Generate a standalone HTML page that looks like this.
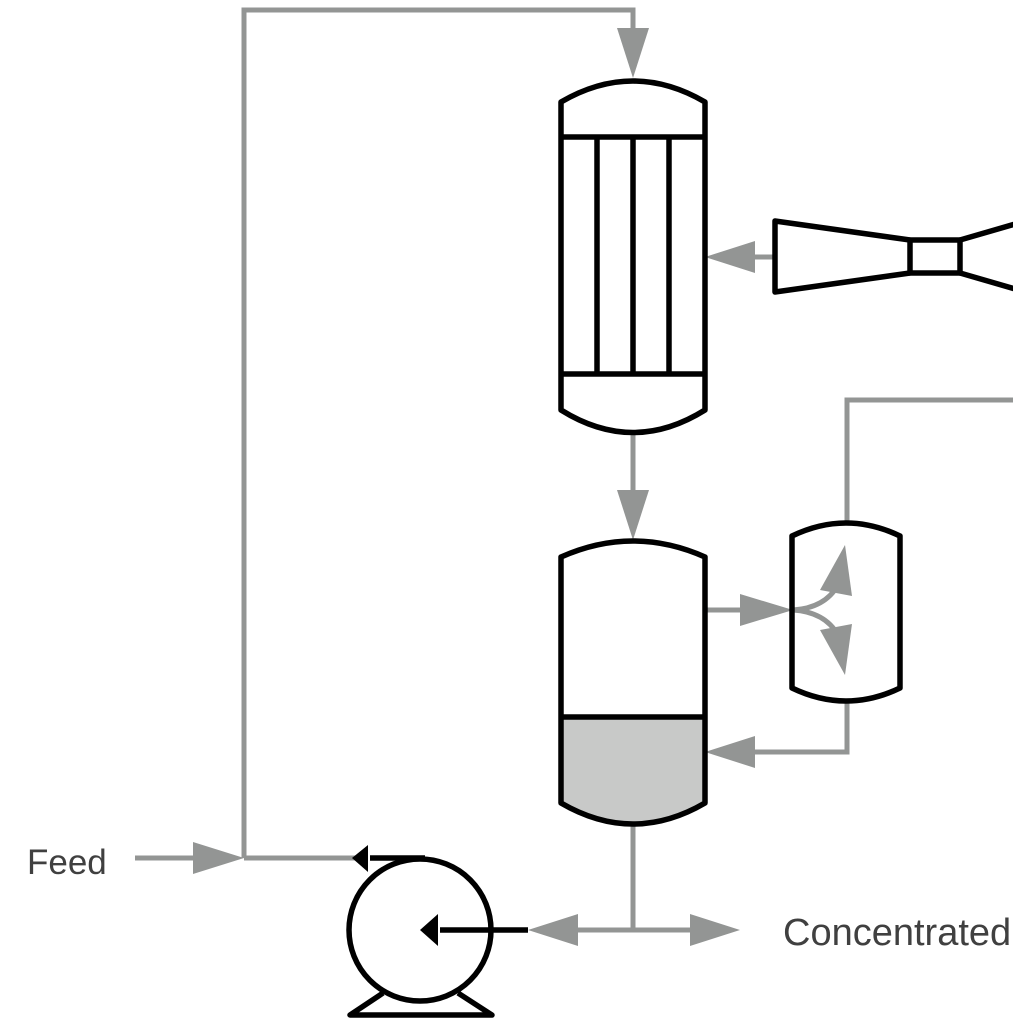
<!DOCTYPE html>
<html><head><meta charset="utf-8"><style>html,body{margin:0;padding:0;background:#fff;width:1013px;height:1025px;overflow:hidden}</style></head>
<body>
<svg width="1013" height="1025" viewBox="0 0 1013 1025" xmlns="http://www.w3.org/2000/svg">
<g fill="none" stroke="#939594" stroke-width="5">
<polyline points="244,858 244,10 633,10 633,40"/>
<line x1="135" y1="858" x2="200" y2="858"/>
<line x1="244" y1="858" x2="360" y2="858"/>
<line x1="633" y1="433" x2="633" y2="495"/>
<line x1="775" y1="257" x2="750" y2="257"/>
<line x1="705" y1="610" x2="745" y2="610"/>
<polyline points="847,522 847,400 1013,400"/>
<polyline points="847,702 847,752 750,752"/>
<line x1="633" y1="825" x2="633" y2="930"/>
<line x1="570" y1="930" x2="695" y2="930"/>
<path d="M793,610 Q825,608 838,585"/>
<path d="M793,610 Q825,612 838,635"/>
</g>
<g fill="#939594">
<polygon points="617,28 649,28 633,78"/>
<polygon points="193,842 193,874 244,858"/>
<polygon points="617,490 649,490 633,540"/>
<polygon points="755,241 755,273 705,257"/>
<polygon points="740,594 740,626 793,610"/>
<polygon points="755,736 755,768 705,752"/>
<polygon points="578,914 578,946 528,930"/>
<polygon points="690,914 690,946 740,930"/>
<polygon points="845,545 852,596 820,590"/>
<polygon points="845,675 852,624 820,630"/>
</g>
<path d="M561,717 L705,717 L705,803 Q633,840 561,803 Z" fill="#c8c9c8"/>
<g fill="none" stroke="#000" stroke-width="5.5" stroke-linejoin="round">
<path d="M561,410 L561,102 Q633,60 705,102 L705,410 Q633,455 561,410 Z"/>
<line x1="561" y1="137" x2="705" y2="137"/>
<line x1="561" y1="374" x2="705" y2="374"/>
<line x1="597" y1="137" x2="597" y2="374"/>
<line x1="633" y1="137" x2="633" y2="374"/>
<line x1="669" y1="137" x2="669" y2="374"/>
<path d="M561,803 L561,557 Q633,525 705,557 L705,803 Q633,845 561,803 Z"/>
<line x1="561" y1="717" x2="705" y2="717"/>
<path d="M792,688 L792,536 Q846,510 900,536 L900,688 Q846,714 792,688 Z"/>
<polyline points="910,240 775,221 775,292 910,273"/>
<rect x="910" y="240" width="50" height="33"/>
<line x1="960" y1="240" x2="1015" y2="224"/>
<line x1="960" y1="273" x2="1015" y2="289"/>
<circle cx="420" cy="930" r="71"/>
<line x1="370" y1="858" x2="425" y2="858"/>
<line x1="440" y1="930" x2="528" y2="930"/>
<polyline points="383,993 350,1015 492,1015 458,993"/>
</g>
<polygon points="352,858 368,845 368,872" fill="#000"/>
<polygon points="420,930 438,914 438,946" fill="#000"/>
<text x="27" y="874" font-family="Liberation Sans, sans-serif" font-size="35" fill="#404040">Feed</text>
<text x="783" y="945" font-family="Liberation Sans, sans-serif" font-size="38" fill="#404040">Concentrated</text>
</svg>
</body></html>
